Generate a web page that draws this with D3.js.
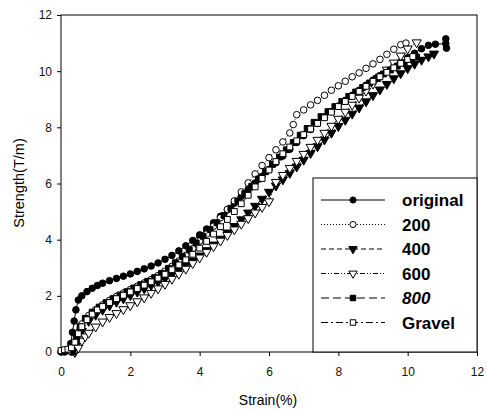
<!DOCTYPE html>
<html><head><meta charset="utf-8">
<script src="https://cdn.jsdelivr.net/npm/d3@7"></script>
<style>body{margin:0;background:#fff}svg{display:block}text{font-family:"Liberation Sans",Arial,sans-serif}</style>
</head><body><svg id="c" width="487" height="412"></svg>
<script>
const xTicks=[0,2,4,6,8,10,12];
const yTicks=[0,2,4,6,8,10,12];
const seriesNames=["original","200","400","600","800","Gravel"];
const original=[[0,0],[0.1,0],[0.2,0.05],[0.28,0.3],[0.33,0.7],[0.38,1.1],[0.43,1.5],[0.5,1.85],[0.6,2.0],[0.75,2.15],[0.9,2.27],[1.05,2.37],[1.2,2.45],[1.4,2.54],[1.6,2.62],[1.8,2.7],[2.0,2.78],[2.2,2.87],[2.4,2.96],[2.6,3.06],[2.8,3.17],[3.0,3.3],[3.2,3.44],[3.4,3.6],[3.6,3.78],[3.8,3.97],[4.0,4.17],[4.2,4.38],[4.4,4.6],[4.6,4.83],[4.8,5.06],[5.0,5.3],[5.2,5.54],[5.4,5.78],[5.6,6.02],[5.8,6.26],[6.0,6.5],[6.2,6.74],[6.4,6.98],[6.6,7.22],[6.8,7.46],[7.0,7.7],[7.2,7.92],[7.4,8.14],[7.6,8.36],[7.8,8.56],[8.0,8.76],[8.2,8.96],[8.4,9.14],[8.6,9.32],[8.8,9.5],[9.0,9.68],[9.2,9.84],[9.4,10.0],[9.6,10.16],[9.8,10.32],[10.0,10.48],[10.2,10.64],[10.4,10.8],[10.6,10.92],[10.8,10.96],[11.1,10.98],[11.1,11.15],[11.12,10.82]];
const s200=[[0.3,0],[0.4,0.3],[0.5,0.7],[0.6,1.0],[0.8,1.3],[1.0,1.5],[1.2,1.68],[1.4,1.84],[1.6,1.98],[1.8,2.1],[2.0,2.22],[2.2,2.34],[2.4,2.46],[2.6,2.58],[2.8,2.72],[3.0,2.88],[3.2,3.05],[3.4,3.24],[3.6,3.44],[3.8,3.68],[4.0,3.95],[4.2,4.2],[4.4,4.48],[4.6,4.78],[4.8,5.08],[5.0,5.38],[5.2,5.7],[5.4,6.02],[5.6,6.34],[5.8,6.64],[6.0,6.92],[6.2,7.2],[6.4,7.48],[6.6,7.8],[6.7,8.1],[6.8,8.45],[7.0,8.62],[7.2,8.8],[7.4,8.96],[7.6,9.14],[7.8,9.32],[8.0,9.48],[8.2,9.64],[8.4,9.8],[8.6,9.94],[8.8,10.1],[9.0,10.26],[9.2,10.42],[9.4,10.6],[9.6,10.78],[9.8,10.94],[9.95,11.0]];
const s400=[[0.4,0],[0.5,0.4],[0.6,0.75],[0.8,1.1],[1.0,1.32],[1.2,1.5],[1.4,1.65],[1.6,1.78],[1.8,1.9],[2.0,2.02],[2.2,2.14],[2.4,2.26],[2.6,2.38],[2.8,2.5],[3.0,2.63],[3.2,2.77],[3.4,2.92],[3.6,3.08],[3.8,3.25],[4.0,3.43],[4.2,3.62],[4.4,3.82],[4.6,4.03],[4.8,4.25],[5.0,4.48],[5.2,4.72],[5.4,4.96],[5.6,5.2],[5.8,5.45],[6.0,5.7],[6.2,5.92],[6.4,6.14],[6.6,6.37],[6.8,6.6],[7.0,6.84],[7.2,7.08],[7.4,7.32],[7.6,7.56],[7.8,7.8],[8.0,8.04],[8.2,8.26],[8.4,8.48],[8.6,8.7],[8.8,8.92],[9.0,9.14],[9.2,9.34],[9.4,9.54],[9.6,9.74],[9.8,9.92],[10.0,10.1],[10.2,10.26],[10.4,10.4],[10.6,10.52],[10.76,10.62]];
const s600=[[0.4,0],[0.5,0.15],[0.6,0.4],[0.7,0.55],[0.8,0.68],[1.0,0.9],[1.2,1.08],[1.4,1.24],[1.6,1.38],[1.8,1.52],[2.0,1.66],[2.2,1.8],[2.4,1.94],[2.6,2.1],[2.8,2.26],[3.0,2.42],[3.2,2.6],[3.4,2.78],[3.6,2.96],[3.8,3.16],[4.0,3.36],[4.2,3.56],[4.4,3.76],[4.6,3.96],[4.8,4.16],[5.0,4.36],[5.2,4.56],[5.4,4.76],[5.6,4.96],[5.8,5.16],[6.0,5.36],[6.2,6.05],[6.4,6.3],[6.6,6.55],[6.8,6.8],[7.0,7.05],[7.2,7.3],[7.4,7.55],[7.6,7.8],[7.8,8.05],[8.0,8.3],[8.2,8.55],[8.4,8.8],[8.6,9.05],[8.8,9.3],[9.0,9.55],[9.2,9.8],[9.4,10.05],[9.6,10.3],[9.8,10.55],[10.0,10.8],[10.26,11.02]];
const s800=[[0.35,0],[0.45,0.5],[0.55,0.9],[0.7,1.2],[0.9,1.42],[1.1,1.6],[1.3,1.76],[1.5,1.9],[1.7,2.03],[1.9,2.15],[2.1,2.28],[2.3,2.4],[2.5,2.52],[2.7,2.65],[2.9,2.8],[3.1,2.98],[3.3,3.18],[3.5,3.4],[3.7,3.64],[3.9,3.88],[4.1,4.12],[4.3,4.36],[4.5,4.6],[4.7,4.86],[4.9,5.12],[5.1,5.38],[5.3,5.64],[5.5,5.9],[5.7,6.16],[5.9,6.42],[6.1,6.68],[6.3,6.94],[6.5,7.2],[6.7,7.46],[6.9,7.72],[7.1,7.96],[7.3,8.18],[7.5,8.38],[7.7,8.56],[7.9,8.74],[8.1,8.92],[8.3,9.1],[8.5,9.26],[8.7,9.42],[8.9,9.58],[9.1,9.74],[9.3,9.9],[9.5,10.04],[9.7,10.18],[9.9,10.3],[10.1,10.42],[10.26,10.5]];
const gravel=[[0,0.05],[0.1,0.08],[0.2,0.1],[0.3,0.15],[0.4,0.35],[0.5,0.65],[0.6,0.9],[0.75,1.15],[0.9,1.35],[1.05,1.5],[1.2,1.62],[1.4,1.76],[1.6,1.9],[1.8,2.02],[2.0,2.14],[2.2,2.26],[2.4,2.38],[2.6,2.5],[2.8,2.63],[3.0,2.77],[3.2,2.93],[3.4,3.1],[3.6,3.28],[3.8,3.48],[4.0,3.7],[4.2,3.94],[4.4,4.2],[4.6,4.46],[4.8,4.72],[5.0,5.0],[5.2,5.28],[5.4,5.58],[5.6,5.88],[5.8,6.18],[6.0,6.48],[6.2,6.78],[6.4,7.06],[6.6,7.3],[6.8,7.52],[7.0,7.74],[7.2,7.94],[7.4,8.14],[7.6,8.34],[7.8,8.54],[8.0,8.74],[8.2,8.92],[8.4,9.1],[8.6,9.28],[8.8,9.46],[9.0,9.64],[9.2,9.8],[9.4,9.96],[9.6,10.12],[9.8,10.28],[10.0,10.42],[10.15,10.52]];
const seriesData=[original,s200,s400,s600,s800,gravel];

const styles=[
 {dash:null, sym:d3.symbolCircle, size:34, fill:"#000", rot:0},
 {dash:"1,2", sym:d3.symbolCircle, size:34, fill:"#fff", rot:0},
 {dash:"5,3", sym:d3.symbolTriangle, size:36, fill:"#000", rot:180},
 {dash:"5,2,1,2,1,2", sym:d3.symbolTriangle, size:36, fill:"#fff", rot:180},
 {dash:"8,4", sym:d3.symbolSquare, size:34, fill:"#000", rot:0},
 {dash:"7,3,2,3", sym:d3.symbolSquare, size:34, fill:"#fff", rot:0}
];

const svg=d3.select("#c");
const x=d3.scaleLinear().domain([0,12]).range([61,477]);
const y=d3.scaleLinear().domain([0,12]).range([352,15]);

svg.append("rect").attr("x",x(0)).attr("y",y(12)).attr("width",x(12)-x(0)).attr("height",y(0)-y(12))
  .attr("fill","none").attr("stroke","#000").attr("stroke-width",1);

const gx=svg.append("g").attr("transform",`translate(0,${y(0)})`)
  .call(d3.axisBottom(x).tickValues(xTicks).tickSize(4).tickPadding(11).tickFormat(d3.format("d")));
const gy=svg.append("g").attr("transform",`translate(${x(0)},0)`)
  .call(d3.axisLeft(y).tickValues(yTicks).tickSize(4).tickPadding(5).tickFormat(d3.format("d")));
[gx,gy].forEach(g=>{g.select(".domain").remove();g.selectAll("text").attr("font-size",12).attr("fill","#111").style("font-family",'"Liberation Sans",Arial,sans-serif');g.selectAll("line").attr("stroke","#000");});

svg.append("text").attr("x",268).attr("y",405).attr("text-anchor","middle").attr("font-size",14).text("Strain(%)");
svg.append("text").attr("transform","translate(24,183) rotate(-90)").attr("text-anchor","middle").attr("font-size",14.5).text("Strength(T/m)");

const line=d3.line().x(d=>x(d[0])).y(d=>y(d[1]));
const plot=svg.append("g");
seriesData.forEach((data,i)=>{
  const st=styles[i];
  plot.append("path").datum(data).attr("d",line).attr("fill","none").attr("stroke","#000").attr("stroke-width",1)
    .attr("stroke-dasharray",st.dash);
});
seriesData.forEach((data,i)=>{
  const st=styles[i];
  const sym=d3.symbol().type(st.sym).size(st.size);
  plot.append("g").selectAll("path").data(data).join("path")
    .attr("d",sym).attr("transform",d=>`translate(${x(d[0])},${y(d[1])}) rotate(${st.rot})`)
    .attr("fill",st.fill).attr("stroke","#000").attr("stroke-width",1);
});

const lg=svg.append("g");
lg.append("rect").attr("x",313).attr("y",178).attr("width",477-313).attr("height",352-178)
  .attr("fill","#fff").attr("stroke","#000").attr("stroke-width",1);
seriesNames.forEach((name,i)=>{
  const st=styles[i];
  const yy=200+i*24.5;
  lg.append("line").attr("x1",321).attr("x2",385).attr("y1",yy).attr("y2",yy)
    .attr("stroke","#000").attr("stroke-width",1).attr("stroke-dasharray",st.dash);
  lg.append("path").attr("d",d3.symbol().type(st.sym).size(30)())
    .attr("transform",`translate(353,${yy}) rotate(${st.rot})`)
    .attr("fill",st.fill).attr("stroke","#000").attr("stroke-width",1);
  lg.append("text").attr("x",402).attr("y",yy).attr("dy","0.36em").attr("font-size",17).attr("font-weight","bold")
    .attr("font-style",name==="800"?"italic":"normal").text(name);
});
</script></body></html>
